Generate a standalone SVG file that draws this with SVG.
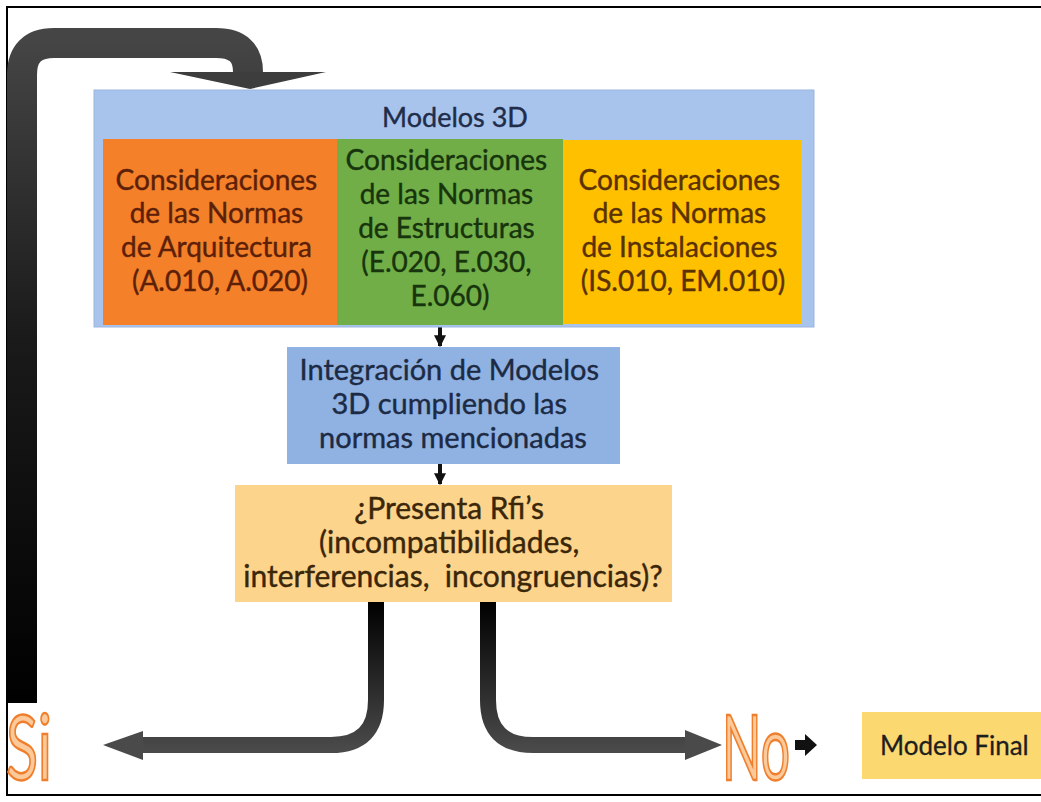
<svg xmlns="http://www.w3.org/2000/svg" width="1041" height="802" viewBox="0 0 1041 802">
  <defs>
    <linearGradient id="barGrad" x1="0" y1="40" x2="0" y2="703" gradientUnits="userSpaceOnUse">
      <stop offset="0" stop-color="#454545"/>
      <stop offset="0.45" stop-color="#1a1a1a"/>
      <stop offset="1" stop-color="#000000"/>
    </linearGradient>
    <linearGradient id="stemGrad" x1="0" y1="602" x2="0" y2="750" gradientUnits="userSpaceOnUse">
      <stop offset="0" stop-color="#000000"/>
      <stop offset="1" stop-color="#4a4a4a"/>
    </linearGradient>
    <marker id="smallHead" viewBox="0 0 10 10" refX="9" refY="5" markerWidth="3" markerHeight="3" orient="auto" markerUnits="strokeWidth">
      <path d="M0,0 L10,5 L0,10 Z" fill="#111"/>
    </marker>
    <style>
      .t { font-family: Lato, "Liberation Sans", sans-serif; text-anchor: middle; stroke-width: 0.4; }
      .big { font-size: 28px; }
      .yn { font-family: Lato, "Liberation Sans", sans-serif; font-size: 92px; fill: #fbc99a; stroke: #ef7f2c; stroke-width: 2.5; }
    </style>
  </defs>

  <rect x="0" y="0" width="1041" height="802" fill="#ffffff"/>
  <!-- outer frame -->
  <rect x="7" y="7" width="1040" height="788" fill="none" stroke="#000" stroke-width="2"/>

  <g id="connectors">
    <!-- loop-back path from "Si" to the top -->
    <path d="M22,703 L22,75 Q22,43 54,43 L216,43 Q248,43 248,72" fill="none" stroke="url(#barGrad)" stroke-width="30"/>
    <path d="M170,72 L326,72 L250,89 Z" fill="#3d3d3d"/>
    <!-- small arrows between blocks -->
    <line x1="440" y1="326" x2="440" y2="346" stroke="#111" stroke-width="4" marker-end="url(#smallHead)"/>
    <line x1="440" y1="464" x2="440" y2="484" stroke="#111" stroke-width="4" marker-end="url(#smallHead)"/>
    <!-- decision branch: Si -->
    <path d="M376,602 L376,700 Q376,745 331,745 L140,745" fill="none" stroke="url(#stemGrad)" stroke-width="16"/>
    <path d="M143,731 L103,745 L143,760 Z" fill="#4a4a4a"/>
    <!-- decision branch: No -->
    <path d="M488,602 L488,700 Q488,745 533,745 L688,745" fill="none" stroke="url(#stemGrad)" stroke-width="16"/>
    <path d="M685,730 L722,745 L685,760 Z" fill="#4a4a4a"/>
    <!-- No to Modelo Final -->
    <path d="M795,740 L805,740 L805,734 L817,745 L805,756 L805,750 L795,750 Z" fill="#111"/>
  </g>

  <g id="modelos3d">
    <rect x="94" y="90" width="720" height="237" fill="#a8c4ec" stroke="#9bb6de" stroke-width="1"/>
    <text class="t" x="455" y="127" font-size="27" fill="#1f2d4a" stroke="#1f2d4a">Modelos 3D</text>
  </g>

  <g id="arquitectura">
    <rect x="103" y="139" width="234" height="186" fill="#f4802a"/>
    <text class="t big" fill="#5c1f08" stroke="#5c1f08">
      <tspan x="220" y="190">Consideraciones</tspan>
      <tspan x="220" y="223">de las Normas</tspan>
      <tspan x="220" y="257">de Arquitectura</tspan>
      <tspan x="220" y="291">(A.010, A.020)</tspan>
    </text>
  </g>

  <g id="estructuras">
    <rect x="337" y="139" width="226" height="186" fill="#71ae48"/>
    <text class="t big" fill="#17340c" stroke="#17340c">
      <tspan x="450" y="170">Consideraciones</tspan>
      <tspan x="450" y="204">de las Normas</tspan>
      <tspan x="450" y="238">de Estructuras</tspan>
      <tspan x="450" y="272">(E.020, E.030,</tspan>
      <tspan x="450" y="306">E.060)</tspan>
    </text>
  </g>

  <g id="instalaciones">
    <rect x="563" y="140" width="238" height="184" fill="#ffc000"/>
    <text class="t big" fill="#5a3100" stroke="#5a3100">
      <tspan x="683" y="190">Consideraciones</tspan>
      <tspan x="683" y="223">de las Normas</tspan>
      <tspan x="683" y="257">de Instalaciones</tspan>
      <tspan x="683" y="291">(IS.010, EM.010)</tspan>
    </text>
  </g>

  <g id="integracion">
    <rect x="287" y="347" width="333" height="117" fill="#8fb2e2"/>
    <text class="t" font-size="29" fill="#1d2a44" stroke="#1d2a44">
      <tspan x="453" y="380">Integración de Modelos</tspan>
      <tspan x="453" y="414">3D cumpliendo las</tspan>
      <tspan x="453" y="448">normas mencionadas</tspan>
    </text>
  </g>

  <g id="rfis">
    <rect x="235" y="485" width="437" height="117" fill="#fdd48c"/>
    <text class="t" font-size="30" fill="#3a2608" stroke="#3a2608">
      <tspan x="453" y="519">¿Presenta Rfi’s</tspan>
      <tspan x="453" y="553">(incompatibilidades,</tspan>
      <tspan x="453" y="587">interferencias,&#160; incongruencias)?</tspan>
    </text>
  </g>

  <g id="si">
    <text class="yn" x="6" y="780" textLength="46" lengthAdjust="spacingAndGlyphs">Si</text>
  </g>

  <g id="no">
    <text class="yn" x="722" y="780" textLength="68" lengthAdjust="spacingAndGlyphs">No</text>
  </g>

  <g id="modelo-final">
    <rect x="862" y="712" width="185" height="67" fill="#fcd870"/>
    <text x="880" y="755" font-family="Lato, 'Liberation Sans', sans-serif" font-size="26" fill="#1e1e1e" stroke="#1e1e1e" stroke-width="0.3">Modelo Final</text>
  </g>
</svg>
